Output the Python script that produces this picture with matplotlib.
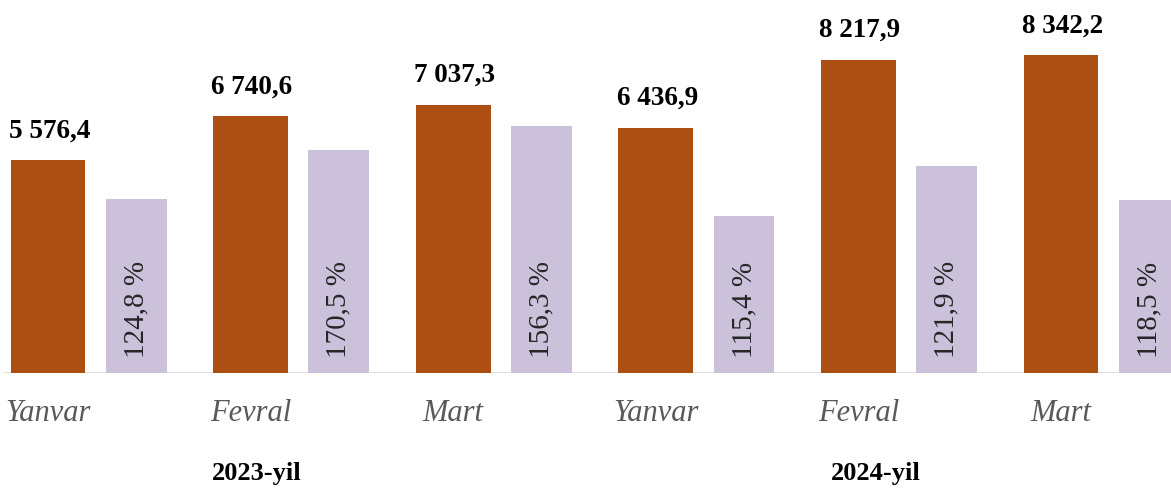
import matplotlib
matplotlib.use('Agg')
import matplotlib.pyplot as plt
import matplotlib.transforms as mtransforms

months = ['Yanvar', 'Fevral', 'Mart', 'Yanvar', 'Fevral', 'Mart']
years = ['2023-yil', '2024-yil']
values = [5576.4, 6740.6, 7037.3, 6436.9, 8217.9, 8342.2]
growth_pct = [124.8, 170.5, 156.3, 115.4, 121.9, 118.5]
# heights of the lavender bars as drawn (not proportional to the % labels)
growth_bar = [4560, 5850, 6480, 4120, 5430, 4540]

orange = '#AD4E12'
lavender = '#CBC1DB'

plt.rcParams['font.family'] = ['Liberation Serif', 'DejaVu Serif']

fig = plt.figure(figsize=(11.71, 4.88), dpi=100)
ax = fig.add_axes([0, 115 / 488, 1, 373 / 488])

x = list(range(len(values)))
x2 = [i + 0.435 for i in x]
ax.bar(x, values, width=0.37, color=orange, zorder=2)
ax.bar(x2, growth_bar, width=0.30, color=lavender, zorder=2)

for xi, v in zip(x, values):
    lab = f'{v:,.1f}'.replace(',', ' ').replace('.', ',')
    ax.annotate(lab, (xi, v), xytext=(1, 12), textcoords='offset points',
                ha='center', va='bottom', fontsize=19.5, fontweight='bold',
                color='black')

for xi, p in zip(x2, growth_pct):
    lab = f'{p:.1f}'.replace('.', ',') + ' %'
    ax.annotate(lab, (xi, 0), xytext=(0, 11), textcoords='offset points',
                ha='center', va='bottom', rotation=90, fontsize=21,
                color='#262626', zorder=3)

ax.axhline(0, color='#d9d9d9', lw=1.2, zorder=1, xmin=0.004)

ax.set_xlim(-0.237, 5.543)
ax.set_ylim(0, 9785)
ax.set_yticks([])
ax.set_xticks(x)
ax.set_xticklabels(months, fontsize=22, style='italic', color='#595959')
ax.tick_params(axis='x', length=0, pad=19)
for s in ax.spines.values():
    s.set_visible(False)

trans = mtransforms.blended_transform_factory(ax.transData, ax.transAxes)
shifts = [0.03, 0.085]
for k, yr in enumerate(years):
    xc = sum(x[3 * k:3 * k + 3]) / 3 + shifts[k]
    ax.text(xc, -0.27, yr, transform=trans, ha='center', va='center',
            fontsize=19, fontweight='bold', color='black')

fig.savefig('out.png', dpi=100)
